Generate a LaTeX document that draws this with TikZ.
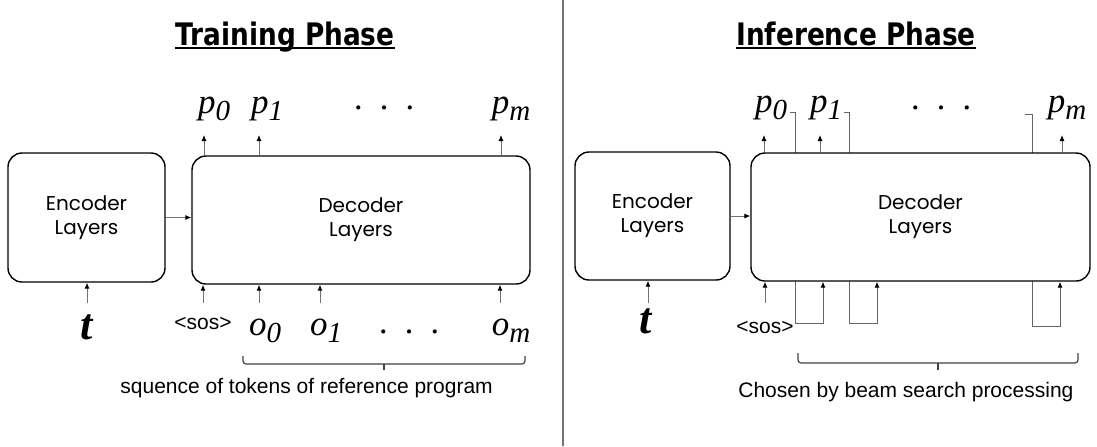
\documentclass[tikz,border=0pt]{standalone}
\usepackage{fontspec}
\usepackage{tikz}
\usetikzlibrary{arrows.meta,backgrounds}
\newfontfamily\boxfont{Poppins}
\newfontfamily\capfont{Liberation Sans}
\newfontfamily\symfont{Liberation Serif}[ItalicFont={Liberation Serif Italic},BoldItalicFont={Liberation Serif Bold Italic}]
\newfontfamily\titlefont[FakeStretch=0.85]{DejaVu Sans}
\newcommand{\tk}[2]{#1\raisebox{-3.8pt}{\fontsize{14.5}{14.5}\selectfont #2}}
\tikzset{
  layer/.style={rectangle, rounded corners=7pt, draw=black, fill=white, line width=0.7pt, align=center, font=\boxfont\fontsize{10}{12}\selectfont},
  tok/.style={anchor=base, inner sep=0pt, font=\symfont\itshape\fontsize{17.5}{17.5}\selectfont},
  inp/.style={anchor=base, inner sep=0pt, font=\symfont\bfseries\itshape\fontsize{22}{22}\selectfont},
  sos/.style={anchor=base, inner sep=0pt, font=\capfont\fontsize{10.5}{12}\selectfont},
  capt/.style={anchor=base west, inner sep=0pt, font=\capfont\fontsize{10.5}{12}\selectfont},
  ttl/.style={anchor=base, inner sep=0pt, font=\titlefont\bfseries\fontsize{15.5}{18}\selectfont},
  arr/.style={-{Latex[length=3pt,width=2.6pt,color=black]}, line width=0.5pt, draw=black!55},
  wire/.style={arr, draw=black!60},
  brk/.style={line width=0.6pt, draw=black!75, rounded corners=1.5pt},
  uline/.style={line width=1pt},
  divider/.style={line width=0.8pt, draw=black!55},
}

\begin{document}
\begin{tikzpicture}[x=0.5pt,y=-0.5pt]
  \useasboundingbox (0,0) rectangle (1097,446);
  \draw[divider] (563,0) -- (563,446);
  % titles
  \node[ttl] (ttl1) at (285,45) {Training Phase};
  \node[ttl] (ttl2) at (856,45) {Inference Phase};
  \foreach \t in {ttl1,ttl2}{\draw[uline] ([yshift=-1.5pt]\t.base west) -- ([yshift=-1.5pt]\t.base east);}
  % training phase
  \node[layer,minimum width=78.5pt,minimum height=64.5pt] (enc1) at (86.5,217.5) {Encoder\\Layers};
  \node[layer,minimum width=169pt,minimum height=64pt] (dec1) at (361,220) {Decoder\\Layers};
  \draw[arr] (enc1.east) -- (enc1.east -| dec1.west);
  \node[inp] (t1) at (87,339) {t};
  \coordinate (ti1) at (87,303);
  \draw[arr] (ti1) -- (ti1 |- enc1.south);
  \node[tok] (lp0) at (214,113) {\tk{p}{0}};
  \node[tok] (lp1) at (267,113) {\tk{p}{1}};
  \node[tok] (ldt) at (385,109.5) {.\hspace{8.5pt}.\hspace{8.5pt}.};
  \node[tok] (lpm) at (511,113) {\tk{p}{m}};
  \foreach \x [count=\i] in {204,259,501}{\coordinate (lt\i) at (\x,135); \draw[arr] (dec1.north -| lt\i) -- (lt\i);}
  \node[sos] (sos1) at (203,329) {<sos>};
  \node[tok] (lo0) at (265,335) {\tk{o}{0}};
  \node[tok] (lo1) at (326,335) {\tk{o}{1}};
  \node[tok] (lod) at (410,333.5) {.\hspace{8.5pt}.\hspace{8.5pt}.};
  \node[tok] (lom) at (511,335) {\tk{o}{m}};
  \foreach \x [count=\i] in {203,259,320,500}{\coordinate (lb\i) at (\x,303); \draw[arr] (lb\i) -- (lb\i |- dec1.south);}
  \coordinate (bl1) at (243,356);
  \coordinate (bm1) at (384,364);
  \coordinate (br1) at (525,356);
  \draw[brk] (bl1) |- (bm1) -| (br1);
  \draw[brk] (bm1) -- ++(0,6);
  \node[capt] (cap1) at (120,393) {squence of tokens of reference program};
  % inference phase
  \node[layer,minimum width=77.5pt,minimum height=64pt] (enc2) at (652.5,216) {Encoder\\Layers};
  \node[layer,minimum width=169.5pt,minimum height=64pt] (dec2) at (920.5,217) {Decoder\\Layers};
  \draw[arr] (enc2.east) -- (enc2.east -| dec2.west);
  \node[inp] (t2) at (646,333) {t};
  \coordinate (ti2) at (648,303);
  \draw[arr] (ti2) -- (ti2 |- enc2.south);
  \node[tok] (rp0) at (771,112) {\tk{p}{0}};
  \node[tok] (rp1) at (826,112) {\tk{p}{1}};
  \node[tok] (rdt) at (942,109.5) {.\hspace{8.5pt}.\hspace{8.5pt}.};
  \node[tok] (rpm) at (1067,112) {\tk{p}{m}};
  \foreach \x [count=\i] in {764,820,1062}{\coordinate (rt\i) at (\x,135); \draw[arr] (dec2.north -| rt\i) -- (rt\i);}
  \node[sos] (sos2) at (765,333) {<sos>};
  \coordinate (rb0) at (765,303);
  \draw[arr] (rb0) -- (rb0 |- dec2.south);
  % feedback of chosen tokens
  \coordinate (h0) at (795,112);
  \coordinate (h1) at (849,112);
  \coordinate (h2) at (1032,114);
  \coordinate (f0) at (823,323);
  \coordinate (f1) at (877,323);
  \coordinate (f2) at (1060,326);
  \begin{scope}[on background layer]
    \draw[wire] ([xshift=-2.5pt]h0) -- (h0) |- (f0) -- (f0 |- dec2.south);
    \draw[wire] ([xshift=-2.5pt]h1) -- (h1) |- (f1) -- (f1 |- dec2.south);
    \draw[wire] ([xshift=-3.5pt]h2) -- (h2) |- (f2) -- (f2 |- dec2.south);
  \end{scope}
  \coordinate (bl2) at (798,353);
  \coordinate (bm2) at (938,363);
  \coordinate (br2) at (1078,353);
  \draw[brk] (bl2) |- (bm2) -| (br2);
  \draw[brk] (bm2) -- ++(0,7);
  \node[capt] (cap2) at (738,397) {Chosen by beam search processing};
\end{tikzpicture}
\end{document}
